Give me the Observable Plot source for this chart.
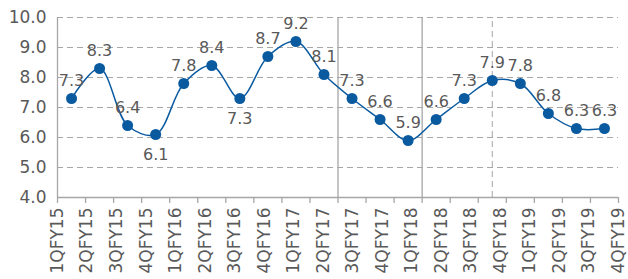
<!DOCTYPE html>
<html><head><meta charset="utf-8">
<script src="https://cdn.jsdelivr.net/npm/d3@7"></script>
<script src="https://cdn.jsdelivr.net/npm/@observablehq/plot@0.6"></script>
<style>body{margin:0;background:#fff;}</style>
</head><body><div id="chart"></div>
<script>
const quarters = ["1QFY15","2QFY15","3QFY15","4QFY15","1QFY16","2QFY16","3QFY16","4QFY16",
  "1QFY17","2QFY17","3QFY17","4QFY17","1QFY18","2QFY18","3QFY18","4QFY18",
  "1QFY19","2QFY19","3QFY19","4QFY19"];
const values = [7.3,8.3,6.4,6.1,7.8,8.4,7.3,8.7,9.2,8.1,7.3,6.6,5.9,6.6,7.3,7.9,7.8,6.8,6.3,6.3];
const yTicks = [4,5,6,7,8,9,10];
const labelsBelow = ["4QFY15","3QFY16"];
const solidDividerAfter = ["2QFY17","1QFY18"];
const dashedDividerAt = ["4QFY18"];

const grey = "#595959", gridC = "#a6a6a6", blue = "#0a5aa0";
const font = "DejaVu Sans, sans-serif";
const n = quarters.length;
const data = quarters.map((q, i) => ({q, i, v: values[i], below: labelsBelow.includes(q)}));
const bounds = d3.range(0, n + 1);
const solidX = solidDividerAfter.map(q => quarters.indexOf(q) + 1);
const dashedX = dashedDividerAt.map(q => quarters.indexOf(q) + 0.5);

const chart = Plot.plot({
  width: 628, height: 279,
  marginLeft: 57, marginRight: 10, marginTop: 17, marginBottom: 82,
  style: {fontFamily: font, background: "#fff"},
  x: {type: "linear", domain: [0, n], axis: null},
  y: {domain: [4, 10], axis: null},
  marks: [
    Plot.ruleY(yTicks.filter(t => t > 4), {y: d => d, stroke: gridC, strokeWidth: 1, strokeDasharray: "6,4"}),
    Plot.ruleX(dashedX, {x: d => d, y1: 4, y2: 10, stroke: gridC, strokeWidth: 1, strokeDasharray: "6,4"}),
    Plot.ruleX(solidX, {x: d => d, y1: 4, y2: 10, stroke: gridC, strokeWidth: 1.3}),
    Plot.ruleX([0], {x: d => d, y1: 4, y2: 10, stroke: gridC, strokeWidth: 1.3}),
    Plot.ruleY([4], {y: d => d, stroke: gridC, strokeWidth: 1.3}),
    Plot.ruleX(bounds, {x: d => d, y1: 4, y2: 3.8, stroke: gridC, strokeWidth: 1.3}),
    Plot.text(yTicks, {x: () => 0, y: d => d, text: d => d.toFixed(1), textAnchor: "end", dx: -11, fill: grey, fontSize: 17, fontFamily: font}),
    Plot.text(quarters, {x: (d, i) => i * n / (n - 1), y: () => 4, text: d => d, rotate: -90, textAnchor: "end", dy: 10, fill: grey, fontSize: 17, fontFamily: font}),
    Plot.line(data, {x: d => d.i + 0.5, y: "v", curve: "catmull-rom", stroke: blue, strokeWidth: 1.5}),
    Plot.dot(data, {x: d => d.i + 0.5, y: "v", r: 5.5, fill: blue}),
    Plot.text(data.filter(d => !d.below), {x: d => d.i + 0.5, y: "v", text: d => d.v.toFixed(1), dy: -18, fill: grey, fontSize: 16, fontFamily: font}),
    Plot.text(data.filter(d => d.below), {x: d => d.i + 0.5, y: "v", text: d => d.v.toFixed(1), dy: 20, fill: grey, fontSize: 16, fontFamily: font})
  ]
});
document.getElementById("chart").append(chart);
</script>
</body></html>
